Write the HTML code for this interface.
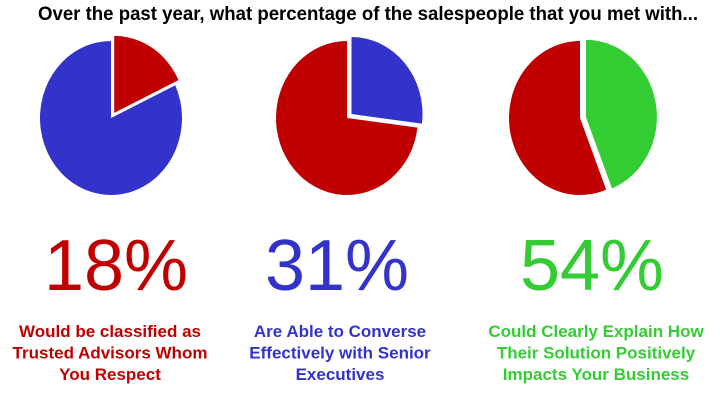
<!DOCTYPE html>
<html><head><meta charset="utf-8"><style>
html,body{margin:0;padding:0;background:#fff;}
svg{display:block;font-family:"Liberation Sans",Arial,sans-serif;}
</style></head><body>
<svg id="chart" width="720" height="404" viewBox="0 0 720 404">
<text x="38" y="20" font-size="19" font-weight="bold" fill="#000" textLength="660" lengthAdjust="spacingAndGlyphs">Over the past year, what percentage of the salespeople that you met with...</text>
<g id="pies"></g>
<g id="labels"></g>
</svg>
<script>
const sliceValues = [18, 27, 44];
const percentLabels = ["18%", "31%", "54%"];
const sliceColors = ["#c00000", "#3333cc", "#33cc33"];
const restColors = ["#3333cc", "#c00000", "#c00000"];
const captions = [
  ["Would be classified as", "Trusted Advisors Whom", "You Respect"],
  ["Are Able to Converse", "Effectively with Senior", "Executives"],
  ["Could Clearly Explain How", "Their Solution Positively", "Impacts Your Business"]
];
const NS = "http://www.w3.org/2000/svg";
const centersX = [111, 347, 580];
const cy = 118, rx = 71, ry = 77;
const labelX = [116, 337, 592];
const captionX = [110, 340, 596];
const pies = document.getElementById("pies");
const labels = document.getElementById("labels");
function pt(cx, a) { return [cx + rx * Math.sin(a), cy - ry * Math.cos(a)]; }
function slicePath(cx, a0, a1, dx, dy) {
  const p0 = pt(cx, a0), p1 = pt(cx, a1);
  const large = (a1 - a0) > Math.PI ? 1 : 0;
  return `M${cx+dx},${cy+dy} L${p0[0]+dx},${p0[1]+dy} A${rx},${ry} 0 ${large} 1 ${p1[0]+dx},${p1[1]+dy} Z`;
}
sliceValues.forEach((v, i) => {
  const cx = centersX[i];
  const a = v / 100 * 2 * Math.PI;
  const mid = a / 2;
  const dx = 6 * Math.sin(mid), dy = -6 * Math.cos(mid);
  const rest = document.createElementNS(NS, "path");
  rest.setAttribute("d", slicePath(cx, a, 2 * Math.PI - 0.0001, 0, 0));
  rest.setAttribute("fill", restColors[i]);
  
  
  pies.appendChild(rest);
  const s = document.createElementNS(NS, "path");
  s.setAttribute("d", slicePath(cx, 0, a, dx, dy));
  s.setAttribute("fill", sliceColors[i]);
  
  
  pies.appendChild(s);
  const t = document.createElementNS(NS, "text");
  t.setAttribute("x", labelX[i]);
  t.setAttribute("y", 290);
  t.setAttribute("text-anchor", "middle");
  t.setAttribute("font-size", "72");
  t.setAttribute("fill", sliceColors[i]);
  t.textContent = percentLabels[i];
  
  
  labels.appendChild(t);
  captions[i].forEach((line, j) => {
    const c = document.createElementNS(NS, "text");
    c.setAttribute("x", captionX[i]);
    c.setAttribute("y", 337 + j * 21.5);
    c.setAttribute("text-anchor", "middle");
    c.setAttribute("font-size", "17");
    c.setAttribute("font-weight", "bold");
    c.setAttribute("fill", sliceColors[i]);
    c.textContent = line;
    
    
    labels.appendChild(c);
  });
});
</script>
</body></html>
